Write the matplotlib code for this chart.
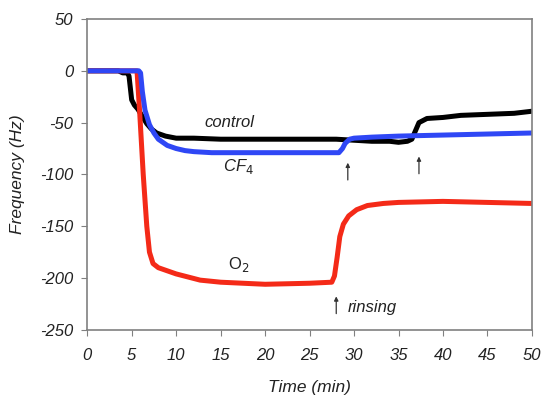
import numpy as np
import matplotlib
matplotlib.use("Agg")
import matplotlib.pyplot as plt

# ================= DATA ================= #
t_control = [0, 3.5, 4.0, 4.5, 4.7, 5.0, 5.3, 5.7, 6.2, 6.7, 7.2, 7.8, 8.8, 10, 12, 15, 20, 25, 28,
             30, 32, 34, 35, 36, 36.5, 36.9, 37.3, 38.2, 40, 42, 45, 48, 50]
v_control = [0, 0, -2, -2, -5, -28, -33, -37, -44, -51, -56, -60, -63, -65, -65, -66, -66, -66, -66,
             -67, -68, -68, -69, -68, -66, -58, -50, -46, -45, -43, -42, -41, -39]

t_cf4 = [0, 5.8, 6.0, 6.2, 6.5, 7, 7.5, 8, 9, 10, 11, 12, 14, 20, 25, 28.3, 28.7, 29, 29.5, 30,
         32, 35, 40, 45, 50]
v_cf4 = [0, 0, -2, -20, -38, -52, -60, -66, -72, -75, -77, -78, -79, -79, -79, -79, -75, -70, -66, -65,
         -64, -63, -62, -61, -60]

t_o2 = [0, 5.6, 5.9, 6.3, 6.7, 7.0, 7.4, 8, 10, 12.7, 15, 20, 25, 27.5, 27.8, 28.1, 28.4, 28.8, 29.4,
        30.3, 31.5, 33.3, 35, 40, 45, 50]
v_o2 = [0, 0, -40, -100, -150, -175, -186, -190, -196, -202, -204, -206, -205, -204, -198, -180, -160,
        -148, -140, -134, -130, -128, -127, -126, -127, -128]

x_ticks = [0, 5, 10, 15, 20, 25, 30, 35, 40, 45, 50]
y_ticks = [50, 0, -50, -100, -150, -200, -250]

# arrows: (x, y_tail, y_head)
arrows = [(28.0, -237, -215), (29.3, -108, -86), (37.3, -102, -80)]

plt.rcParams["font.family"] = ["Liberation Sans", "DejaVu Sans"]
plt.rcParams["axes.unicode_minus"] = False

fig = plt.figure(figsize=(5.45, 3.96), dpi=100)
ax = fig.add_axes([0.160, 0.167, 0.816, 0.785])

ax.plot(t_control, v_control, color="black", lw=3.6, solid_joinstyle="round")
ax.plot(t_o2, v_o2, color="#f42a18", lw=3.6, solid_joinstyle="round")
ax.plot(t_cf4, v_cf4, color="#2f47f5", lw=3.6, solid_joinstyle="round")

ax.set_xlim(0, 50)
ax.set_ylim(-250, 50)
ax.set_xticks(x_ticks)
ax.set_yticks(y_ticks)

for s in ax.spines.values():
    s.set_color("#808080")
    s.set_linewidth(1.2)
ax.tick_params(direction="out", color="#808080", length=4, labelsize=12, labelcolor="#222222")
ax.tick_params(axis="x", pad=9)
ax.tick_params(axis="y", pad=6)
for lab in ax.get_xticklabels() + ax.get_yticklabels():
    lab.set_style("italic")

ax.set_xlabel("Time (min)", style="italic", fontsize=12.5, color="#222222", labelpad=12)
ax.set_ylabel("Frequency (Hz)", style="italic", fontsize=12.5, color="#222222", labelpad=11)

ax.text(16, -50, "control", style="italic", fontsize=12, ha="center", va="center", color="#222222")
ax.text(17, -92, "CF$_4$", style="italic", fontsize=12, ha="center", va="center", color="#222222")
ax.text(17, -187, "O$_2$", fontsize=12, ha="center", va="center", color="#222222")
ax.text(29.3, -228, "rinsing", style="italic", fontsize=12, ha="left", va="center", color="#222222")

for x, y0, y1 in arrows:
    ax.annotate("", xy=(x, y1), xytext=(x, y0),
                arrowprops=dict(arrowstyle="-|>", color="#333333", lw=0.9, mutation_scale=6))

fig.savefig("out.png", dpi=100)
